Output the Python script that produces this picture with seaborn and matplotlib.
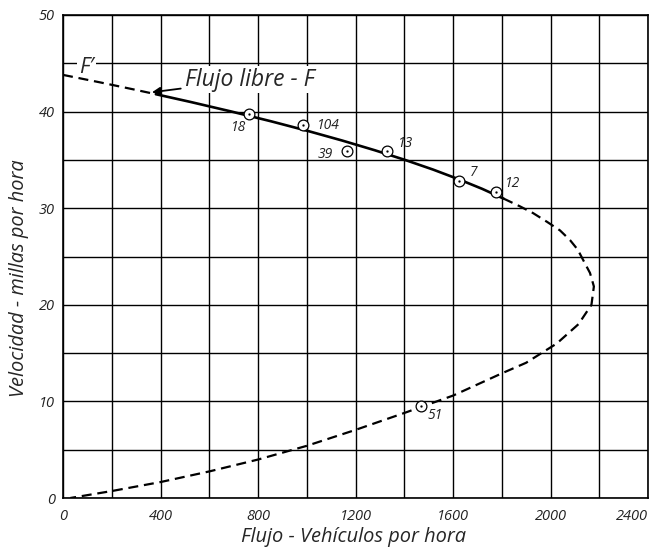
import matplotlib
matplotlib.use("Agg")
import matplotlib.pyplot as plt
import seaborn as sns
import pandas as pd
import numpy as np

# ---- data ----
# upper free-flow branch (dashed part before the solid line)
upper_dash_flow = [0, 157, 289, 381]
upper_dash_speed = [43.8, 43.0, 42.3, 41.8]
# solid observed range
solid_flow = [381, 523, 692, 853, 1004, 1146, 1279, 1403, 1518, 1623, 1720, 1807]
solid_speed = [41.8, 41.0, 40.0, 39.0, 38.0, 37.0, 36.0, 35.0, 34.0, 33.0, 32.0, 31.0]
# dashed continuation around the nose down to the origin
lower_flow = [1807, 1874, 1928, 1985, 2039, 2080, 2112, 2141, 2162, 2178, 2168, 2115,
              2026, 1900, 1800, 1600, 1400, 1200, 1000, 800, 600, 400, 200, 30]
lower_speed = [31.0, 30.2, 29.5, 28.6, 27.7, 26.7, 25.7, 24.3, 23.3, 21.9, 20.0, 18.0,
               16.0, 14.0, 12.9, 10.6, 8.8, 7.05, 5.4, 3.98, 2.75, 1.65, 0.72, 0.0]

# observed points
obs_label = ["18", "104", "39", "13", "7", "12", "51"]
obs_flow = [765, 985, 1165, 1328, 1625, 1775, 1469]
obs_speed = [39.8, 38.6, 35.9, 35.9, 32.85, 31.7, 9.55]

x_ticks = [0, 400, 800, 1200, 1600, 2000, 2400]
y_ticks = [0, 10, 20, 30, 40, 50]

sns.set_theme(style="white")
plt.rcParams['font.family'] = ['Open Sans', 'DejaVu Sans']

fig = plt.figure(figsize=(6.5, 5.48), dpi=100)
ax = fig.add_axes([63/650, 50/548, 585/650, 483/548])

lw = 1.6
dash = (4.5, 2.6)
sns.lineplot(x=upper_dash_flow, y=upper_dash_speed, sort=False, ax=ax,
             color="black", lw=lw, zorder=3)
ax.lines[-1].set_dashes(dash)
sns.lineplot(x=solid_flow, y=solid_speed, sort=False, ax=ax, color="black", lw=lw + 0.3, zorder=3)
sns.lineplot(x=lower_flow, y=lower_speed, sort=False, ax=ax, color="black", lw=lw, zorder=3)
ax.lines[-1].set_dashes(dash)

df = pd.DataFrame({"flow": obs_flow, "speed": obs_speed, "label": obs_label})
sns.scatterplot(data=df, x="flow", y="speed", ax=ax, s=60, facecolor="white",
                edgecolor="black", linewidth=0.9, zorder=4)
sns.scatterplot(data=df, x="flow", y="speed", ax=ax, s=2, color="black",
                edgecolor="black", linewidth=0.2, zorder=5)

offsets = {"18": (-11, -14, "center"), "104": (14, 0, "left"), "39": (-14, -3, "right"),
           "13": (11, 8, "left"), "7": (11, 8, "left"), "12": (9, 8, "left"),
           "51": (6, -10, "left")}
for lab, fx, sy in zip(obs_label, obs_flow, obs_speed):
    dx, dy, ha = offsets[lab]
    ax.annotate(lab, (fx, sy), xytext=(dx, dy), textcoords="offset pixels",
                ha=ha, va="center", fontsize=10, style="italic", color="#222222")

# annotations
ax.text(98, 44.6, "F\u2032", fontsize=15.5, style="italic", ha="center", va="center",
        bbox=dict(facecolor="white", edgecolor="none", pad=1.5), zorder=2.5)
ax.annotate("Flujo libre - F", xy=(365, 42.0), xytext=(500, 43.3),
            fontsize=16.5, style="italic", ha="left", va="center",
            arrowprops=dict(arrowstyle="-|>", color="black", lw=1.3,
                            mutation_scale=12, shrinkA=2, shrinkB=0),
            bbox=dict(facecolor="white", edgecolor="none", pad=1.0), zorder=2.5)

ax.set_xlim(0, 2400)
ax.set_ylim(0, 50)
ax.set_xticks(x_ticks)
ax.set_yticks(y_ticks)
ax.set_xticks(np.arange(0, 2401, 200), minor=True)
ax.set_yticks(np.arange(0, 51, 5), minor=True)
ax.grid(True, which="both", color="black", lw=1.0)
ax.set_axisbelow(True)
ax.set_xticklabels([str(t) for t in x_ticks], fontsize=10.5, style="italic")
ax.set_yticklabels([str(t) for t in y_ticks], fontsize=10.5, style="italic")
ax.get_xticklabels()[-1].set_ha("right")
ax.tick_params(axis="both", which="both", length=0, pad=6, colors="#222222")
ax.tick_params(axis="x", pad=8)
for s in ax.spines.values():
    s.set_color("black")
    s.set_linewidth(1.2)

ax.set_xlabel("Flujo - Vehículos por hora", fontsize=14.4, style="italic")
ax.set_ylabel("Velocidad - millas por hora", fontsize=14.4, style="italic")
ax.xaxis.set_label_coords(0.496, -0.06)
ax.yaxis.set_label_coords(-0.058, 0.455)

fig.savefig("out.png", dpi=100)
